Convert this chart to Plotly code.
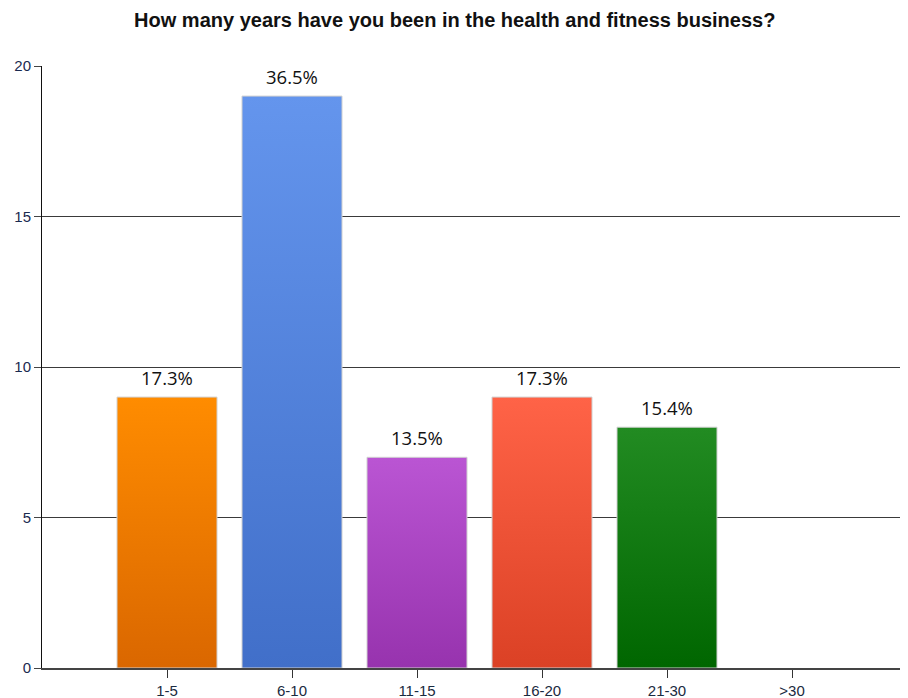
import plotly.graph_objects as go

categories = ["1-5", "6-10", "11-15", "16-20", "21-30", ">30"]
counts = [9, 19, 7, 9, 8, 0]
pct_labels = ["17.3%", "36.5%", "13.5%", "17.3%", "15.4%", ""]
top_colors = ["#FF8C00", "#6495ED", "#BA55D3", "#FF6347", "#228B22", "#888888"]
bottom_colors = ["#DA6700", "#416FC9", "#9733AE", "#DB4125", "#006600", "#666666"]
y_ticks = [0, 5, 10, 15, 20]

half_w = 0.4
fig = go.Figure()
for i, (cat, v) in enumerate(zip(categories, counts)):
    if v <= 0:
        continue
    xs = [i - half_w, i + half_w, i + half_w, i - half_w, i - half_w]
    ys = [0, 0, v, v, 0]
    fig.add_trace(go.Scatter(
        x=xs, y=ys, mode="lines", fill="toself",
        line=dict(color="#D0D0D0", width=1),
        fillgradient=dict(type="vertical", start=0, stop=v,
                          colorscale=[[0, bottom_colors[i]], [1, top_colors[i]]]),
        hoverinfo="skip", showlegend=False,
    ))

for i, (v, lab) in enumerate(zip(counts, pct_labels)):
    if lab:
        fig.add_annotation(x=i, y=v, text=lab, showarrow=False,
                           yanchor="bottom", yshift=5,
                           font=dict(family="Open Sans, Noto Sans, sans-serif", size=18.5, color="#111111"))

fig.update_layout(
    width=908, height=698,
    margin=dict(l=34, r=0, t=58, b=38),
    paper_bgcolor="white", plot_bgcolor="white",
    title=dict(text="<b>How many years have you been in the health and fitness business?</b>",
               x=0.492, xanchor="center", y=1 - 12 / 698, yanchor="middle",
               font=dict(family="Liberation Sans, Arial, sans-serif", size=20, color="#111111")),
    showlegend=False,
)
fig.update_xaxes(
    range=[-1, 5.992], tickmode="array", tickvals=list(range(len(categories))), ticktext=categories,
    showgrid=False, zeroline=False, showline=True, linecolor="#444444", linewidth=1.5,
    ticks="outside", ticklen=8, tickcolor="#333333",
    tickfont=dict(family="Liberation Sans, Arial, sans-serif", size=15, color="#1a2a40"),
)
fig.update_yaxes(
    range=[0, 20], tickmode="array", tickvals=y_ticks,
    showgrid=True, gridcolor="#3a3a3a", gridwidth=1, zeroline=False,
    showline=True, linecolor="#111111", linewidth=1,
    ticks="outside", ticklen=7, tickcolor="#444444",
    tickfont=dict(family="Liberation Sans, Arial, sans-serif", size=15, color="#1a2a50"),
)
fig.write_html("out.html")
